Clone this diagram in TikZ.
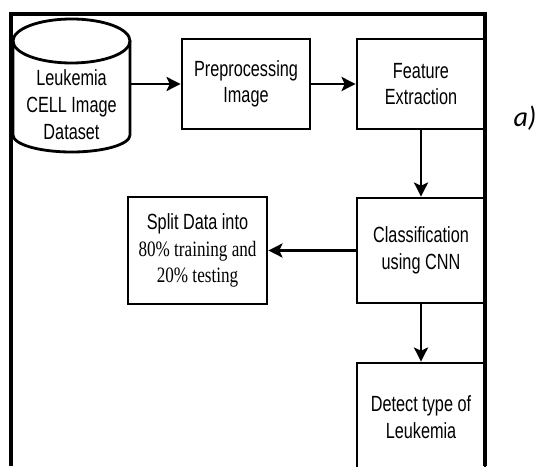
\documentclass[tikz,border=0pt]{standalone}
\usepackage{fontspec}
\setmainfont{Liberation Sans}[FakeStretch=0.74]
\newfontfamily\serifnarrow{Liberation Serif}[FakeStretch=0.78]
\newfontfamily\labelfont{Carlito}
\usetikzlibrary{arrows.meta,positioning}

\begin{document}
\begin{tikzpicture}[
  stagebox/.style={draw,line width=1.6pt,minimum width=2.56cm,minimum height=1.8cm,align=center,font=\fontsize{12.5}{15}\selectfont},
  flow/.style={line width=1.5pt,-{Stealth[length=8pt,width=8pt,inset=1.8pt]}}]
\useasboundingbox (0,0) rectangle (10.74,9.32);
% outer frame, open at the bottom
\draw[line width=1.8pt] (0.22,0) -- (0.22,9.04) -- (9.70,9.04) -- (9.70,0);
% dataset cylinder
\draw[line width=1.6pt] (0.26,8.50) -- (0.26,6.62) arc[start angle=180,end angle=360,x radius=1.17,y radius=0.34] -- (2.60,8.50);
\draw[line width=1.6pt] (1.43,8.50) ellipse[x radius=1.17,y radius=0.44];
\node[minimum width=2.34cm,align=center,font=\fontsize{12.5}{15.4}\selectfont] (data) at (1.43,7.22) {Leukemia\\CELL Image\\Dataset};
% processing stages
\node[stagebox] (prep) at (4.92,7.64) {Preprocessing\\Image};
\node[stagebox] (feat) at (8.42,7.64) {Feature\\Extraction};
\node[stagebox,minimum height=2.1cm] (cnn) at (8.42,4.31) {Classification\\using CNN};
\node[stagebox,minimum width=2.78cm,minimum height=2.14cm] (split) at (3.95,4.31) {Split Data into\\{\serifnarrow 80\% training and}\\{\serifnarrow 20\% testing}};
\node[stagebox,minimum height=2.16cm] (detect) at (8.42,0.98) {Detect type of\\Leukemia};
\draw[flow] (data.east |- prep.west) -- (prep.west);
\draw[flow] (prep) -- (feat);
\draw[flow] (feat) -- (cnn);
\draw[flow] (cnn) -- (split);
\draw[flow] (cnn) -- (detect);
\node[font=\labelfont\itshape\fontsize{16}{18}\selectfont] (tag) at (10.50,6.96) {a)};
\end{tikzpicture}
\end{document}
